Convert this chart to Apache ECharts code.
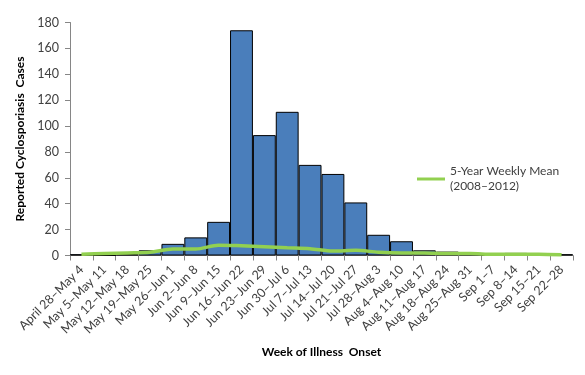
<!DOCTYPE html>
<html><head><meta charset="utf-8">
<script src="https://cdn.jsdelivr.net/npm/echarts@6/dist/echarts.min.js"></script>
<style>html,body{margin:0;padding:0;background:#fff}#c{width:585px;height:375px}</style>
</head><body><div id="c"></div>
<script>
var weeks = ["April 28–May 4","May 5–May 11","May 12–May 18","May 19–May 25","May 26–Jun 1","Jun 2–Jun 8","Jun 9–Jun 15","Jun 16–Jun 22","Jun 23–Jun 29","Jun 30–Jul 6","Jul 7–Jul 13","Jul 14–Jul 20","Jul 21–Jul 27","Jul 28–Aug 3","Aug 4–Aug 10","Aug 11–Aug 17","Aug 18–Aug 24","Aug 25–Aug 31","Sep 1–7","Sep 8–14","Sep 15–21","Sep 22–28"];
var cases = [1,0,1,4,9,14,26,174,93,111,70,63,41,16,11,4,3,2,0,2,1,1];
var meanSeries = [1,1.5,2,2.5,5,5,8,7.5,6.8,6,5.3,3.5,4,2.5,2,2,1.5,1.5,1,1,1,0.5];
var yTicks = [0,20,40,60,80,100,120,140,160,180];
var meanName = "5-Year Weekly Mean\n(2008–2012)";

var font = "Lato, 'Open Sans', sans-serif";
var chart = echarts.init(document.getElementById('c'), null, {renderer:'canvas'});
chart.setOption({
  animation:false,
  backgroundColor:'#fff',
  textStyle:{fontFamily:font},
  grid:{left:70,right:12,top:22.5,bottom:119.5,containLabel:false},
  legend:{
    data:[{name:meanName, icon:'rect'}],
    left:412, top:159, orient:'vertical',
    itemWidth:28, itemHeight:3, itemGap:4,
    textStyle:{fontFamily:font,fontSize:12,color:'#404040',lineHeight:15}
  },
  xAxis:{
    type:'category', data:weeks, boundaryGap:true,
    name:'Week of Illness  Onset', nameLocation:'middle', nameGap:91,
    nameTextStyle:{fontFamily:font,fontWeight:'bold',fontSize:12,color:'#000'},
    axisLine:{lineStyle:{color:'#868686',width:1}},
    axisTick:{show:true,alignWithLabel:false,length:5,lineStyle:{color:'#868686'}},
    axisLabel:{rotate:45,interval:0,fontSize:12.5,color:'#404040',fontFamily:font,margin:12},
    splitLine:{show:false}
  },
  yAxis:{
    type:'value', min:0, max:180, interval:20,
    name:'Reported Cyclosporiasis  Cases', nameLocation:'middle', nameGap:36,
    nameTextStyle:{fontFamily:font,fontWeight:'bold',fontSize:12,color:'#000'},
    axisLine:{show:true,lineStyle:{color:'#868686',width:1}},
    axisTick:{show:true,length:5,lineStyle:{color:'#868686'}},
    axisLabel:{fontSize:12.5,color:'#404040',fontFamily:font,margin:11,
      formatter:function(v){return yTicks.indexOf(v)>=0?String(v):'';}},
    splitLine:{show:false}
  },
  series:[
    {name:'Cases',type:'bar',data:cases,barCategoryGap:'0%',
     itemStyle:{color:'#4A7EBB',borderColor:'#000',borderWidth:1}},
    {name:meanName,type:'line',data:meanSeries,symbol:'none',smooth:0.3,
     lineStyle:{color:'#92D050',width:3.5},itemStyle:{color:'#92D050'},z:5}
  ]
});
</script></body></html>
